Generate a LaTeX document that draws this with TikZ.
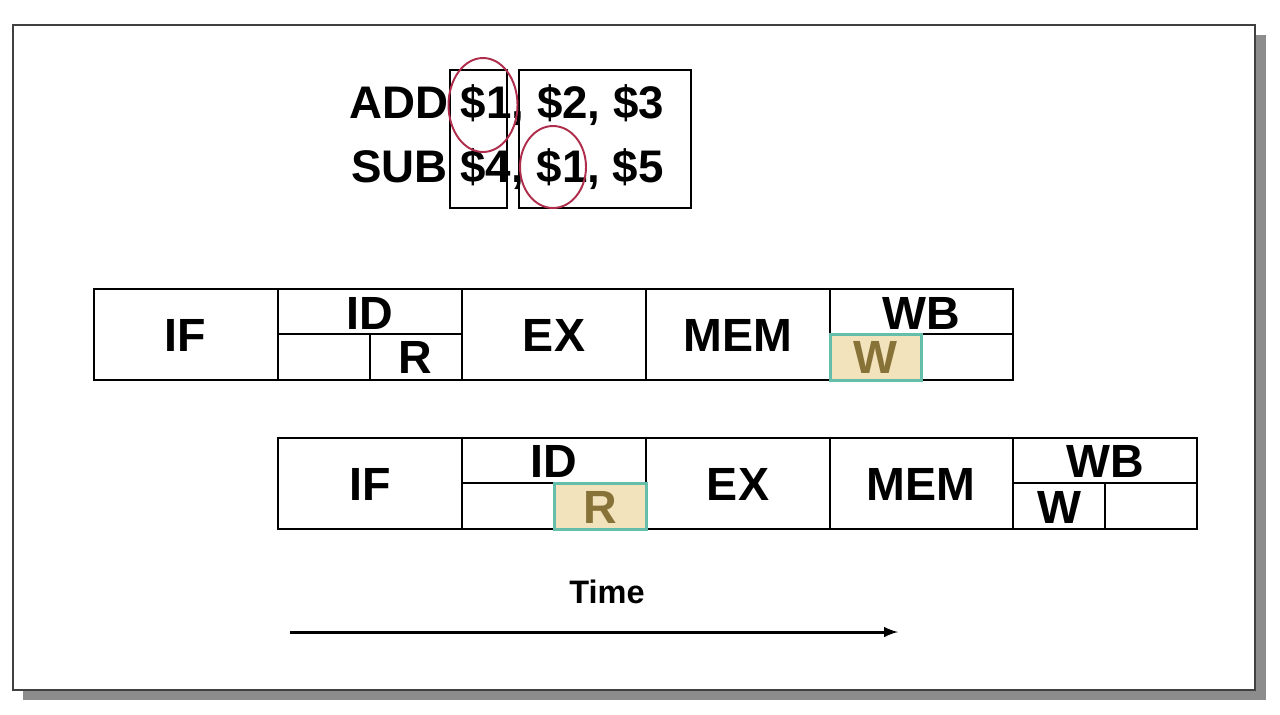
\documentclass[tikz,border=0pt]{standalone}
\usepackage{fontspec}
\setmainfont{Liberation Sans}
\usetikzlibrary{arrows,positioning}
\definecolor{circred}{RGB}{175,45,75}
\definecolor{hlfill}{RGB}{243,227,188}
\definecolor{hledge}{RGB}{100,190,170}
\definecolor{hltext}{RGB}{135,115,55}
\tikzstyle{cell}=[draw=black,line width=0.8pt]
\tikzstyle{stage}=[font=\fontsize{26.5}{26.5}\selectfont\bfseries,inner sep=0pt]
\tikzstyle{instr}=[font=\fontsize{26}{26}\selectfont\bfseries,inner sep=0pt,anchor=west]
\tikzstyle{hl}=[fill=hlfill,draw=hledge,line width=1.7pt]
\tikzstyle{reg}=[circred,line width=1.1pt]
\begin{document}
\begin{tikzpicture}[x=0.02cm,y=-0.02cm]
\useasboundingbox (0,0) rectangle (1280,714);
\fill[black!45] (23,35) rectangle (1266,700);
\draw[fill=white,draw=black!75,line width=1.2pt] (13,25) rectangle (1255,690);
\node[instr] (add) at (349,105) {ADD \$1, \$2, \$3};
\node[instr] (sub) at (351,169) {SUB \$4, \$1, \$5};
\draw[cell] (450,70) rectangle (507,208);
\draw[cell] (519,70) rectangle (691,208);
\draw[reg] (483,105) ellipse (0.69cm and 0.94cm);
\draw[reg] (553,167) ellipse (0.66cm and 0.82cm);
\draw[cell] (94,289) rectangle (1013,380);
\foreach \x in {278,462,646,830}
  \draw[cell] (\x,289) -- (\x,380);
\draw[cell] (278,334) -- (462,334) (370,334) -- (370,380);
\draw[cell] (830,334) -- (1013,334);
\draw[hl] (830,334) rectangle (921,380);
\node[stage] (if1) at (185,335) {IF};
\node[stage] (id1) at (370,313) {ID};
\node[stage] (r1) at (415,357) {R};
\node[stage] (ex1) at (554,335) {EX};
\node[stage] (mem1) at (738,335) {MEM};
\node[stage] (wb1) at (921,313) {WB};
\node[stage,text=hltext] (w1) at (875,357) {W};
\draw[cell] (278,438) rectangle (1197,529);
\foreach \x in {462,646,830,1013}
  \draw[cell] (\x,438) -- (\x,529);
\draw[cell] (462,483) -- (646,483);
\draw[cell] (1013,483) -- (1197,483) (1105,483) -- (1105,529);
\draw[hl] (554,483) rectangle (646,529);
\node[stage] (if2) at (370,484) {IF};
\node[stage] (id2) at (554,461) {ID};
\node[stage,text=hltext] (r2) at (600,507) {R};
\node[stage] (ex2) at (738,484) {EX};
\node[stage] (mem2) at (921,484) {MEM};
\node[stage] (wb2) at (1105,461) {WB};
\node[stage] (w2) at (1059,507) {W};
\node[font=\fontsize{18.5}{18.5}\selectfont\bfseries,inner sep=0pt] (time) at (607,592) {Time};
\coordinate (t0) at (290,632);
\coordinate (t1) at (898,632);
\path[->,>=latex,line width=1.7pt] (t0) edge (t1);
\end{tikzpicture}
\end{document}
